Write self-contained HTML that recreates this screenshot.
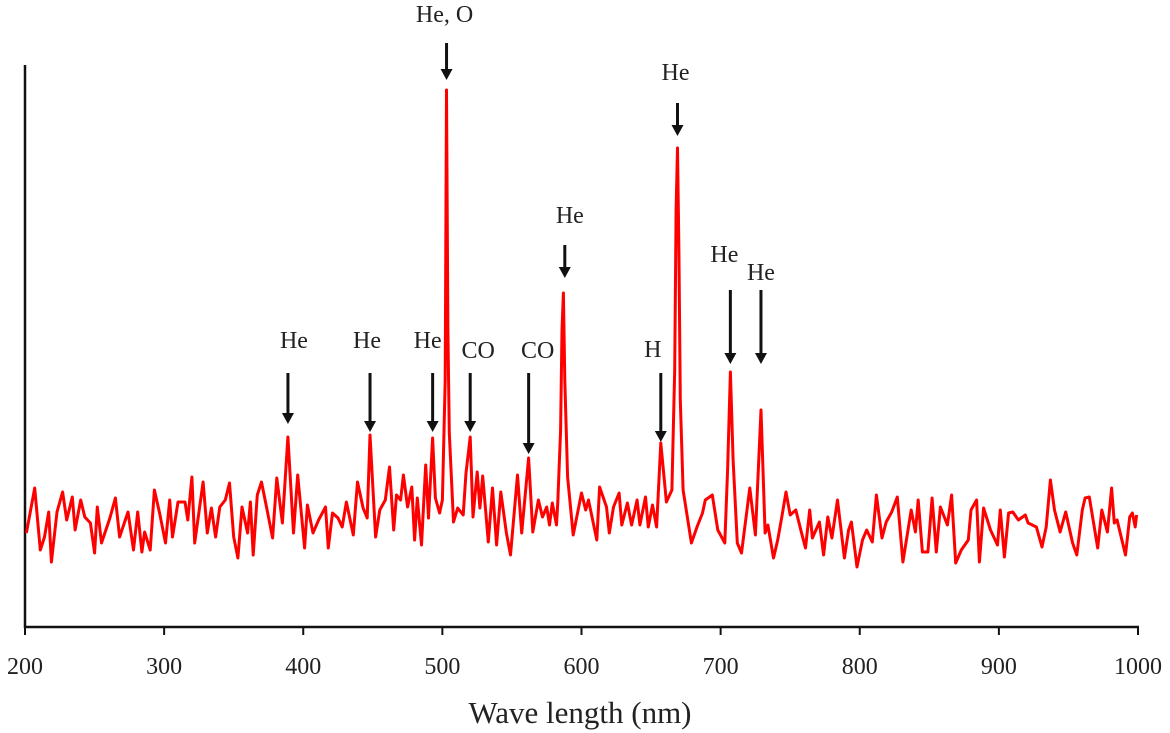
<!DOCTYPE html>
<html><head><meta charset="utf-8"><style>
html,body{margin:0;padding:0;background:#fff;}
svg{display:block;font-family:"Liberation Serif",serif;}
</style></head><body>
<svg id="chart" width="1170" height="733" viewBox="0 0 1170 733">
<g id="axes"></g>
<g id="series"></g>
<g id="annots"></g>
<text x="580" y="723" font-size="31" text-anchor="middle" fill="#222">Wave length (nm)</text>
</svg>
<script>
const wavelengths = [201,207,211,214,217,219,223,227,230,234,236,240,243,247,250,252,255,261,265,268,274,278,281,284,286,290,293,297,301,304,306,310,315,317,320,322,328,331,334,337,340,344,347,350,353,356,360,362,364,367,370,374,378,381,385,389,393,396,401,403,407,411,416,418,421,425,428,431,436,439,443,446,448,452,455,459,462,465,467,470,472,475,478,480,482,485,488,490,493,495,498,500,502,503,504,505,508,511,515,517,520,522,525,527,529,533,536,539,542,546,549,552,554,557,562,565,569,572,575,577,579,582,583,585,586,587,588,590,594,600,603,605,611,613,618,620,623,627,629,633,636,640,642,646,648,651,654,657,661,665,667,668,669,670,671,673,679,683,687,689,694,698,703,705,707,709,712,715,721,725,729,732,734,738,741,744,747,750,754,758,761,764,766,771,774,777,780,784,789,792,794,798,802,805,809,812,816,819,823,827,831,837,840,842,845,849,852,855,858,863,866,869,873,878,880,884,886,889,894,899,901,904,907,910,914,919,921,927,931,934,937,940,944,948,953,956,960,962,965,971,974,978,981,983,985,991,994,996,998,999];
const intensities = [97,142,80,93,118,68,118,138,110,133,100,130,113,107,77,123,87,112,132,93,118,80,118,78,98,80,140,115,87,130,93,128,128,110,153,87,148,97,122,93,123,130,147,93,72,123,97,128,75,135,148,120,92,152,107,193,97,155,82,125,97,110,123,82,117,112,103,128,95,148,122,112,195,93,120,130,163,100,135,130,155,123,143,90,132,85,165,112,192,132,117,130,250,540,300,197,108,122,115,157,193,113,158,122,154,88,142,85,138,97,75,123,155,97,172,98,130,113,123,105,127,105,128,200,300,337,250,153,95,137,120,130,90,143,123,97,123,137,105,127,105,130,105,133,103,125,103,187,128,140,260,420,482,380,230,140,87,103,117,130,135,100,87,160,258,170,87,77,142,95,220,97,105,72,90,113,138,115,120,98,82,120,92,108,75,113,92,130,72,100,108,63,90,100,88,135,92,108,118,133,68,120,98,130,78,78,132,78,123,105,135,67,80,90,120,130,68,122,100,85,120,73,117,118,110,115,107,103,83,103,150,120,98,118,87,75,120,132,133,82,120,98,142,107,110,75,113,117,103,115];
const xTicks = [200,300,400,500,600,700,800,900,1000];
const peakLabels = ["He","He","He","CO","CO","He, O","He","He","H","He","He"];
const peakWaves = [389,448,493,520,562,503,669,588,657,707,729];

const NS="http://www.w3.org/2000/svg";
const X0=25, X1=1138, WMIN=200, WMAX=1000;
function xs(w){return X0+(w-WMIN)*(X1-X0)/(WMAX-WMIN);}
function ys(v){return 630-v;}
function mk(tag,attrs,parent){const e=document.createElementNS(NS,tag);for(const k in attrs)e.setAttribute(k,attrs[k]);parent.appendChild(e);return e;}

const axes=document.getElementById('axes');
let yl=mk('line',{x1:X0,y1:65,x2:X0,y2:628,stroke:'#111','stroke-width':2.5},axes);


let xl=mk('line',{x1:X0-1,y1:627,x2:X1+1,y2:627,stroke:'#111','stroke-width':2.5},axes);


xTicks.forEach(t=>{
  const tk=mk('line',{x1:xs(t),y1:627,x2:xs(t),y2:635,stroke:'#111','stroke-width':2},axes);
  
  
  const lb=mk('text',{x:xs(t),y:674,'font-size':24,'text-anchor':'middle',fill:'#222'},axes);
  lb.textContent=t;
  
  
});

const series=document.getElementById('series');
const pts=wavelengths.map((w,i)=>xs(w).toFixed(1)+','+ys(intensities[i]).toFixed(1)).join(' ');
const pl=mk('polyline',{points:pts,fill:'none',stroke:'#ff0000','stroke-width':3,'stroke-linejoin':'round'},series);



const arrowTop=[373,373,373,373,373,43,103,245,373,290,290];
const arrowBot=[424,432,432,432,454,80,136,278,442,364,364];
const labelY=[348,348,348,358,358,22,80,223,357,262,280];
const labelDx=[6,-3,-5,8,9,-2,-2,5,-8,-6,0];
const annots=document.getElementById('annots');
peakWaves.forEach((w,i)=>{
  const x=xs(w);
  const g=mk('g',{},annots);
  
  
  const sh=mk('line',{x1:x,y1:arrowTop[i],x2:x,y2:arrowBot[i]-9,stroke:'#111','stroke-width':3},g);
  
  
  const hd=mk('polygon',{points:`${x-6},${arrowBot[i]-11} ${x+6},${arrowBot[i]-11} ${x},${arrowBot[i]}`,fill:'#111'},g);
  
  
  const t=mk('text',{x:x+labelDx[i],y:labelY[i],'font-size':24,'text-anchor':'middle',fill:'#222'},g);
  t.textContent=peakLabels[i];
  
  
});
</script>
</body></html>
